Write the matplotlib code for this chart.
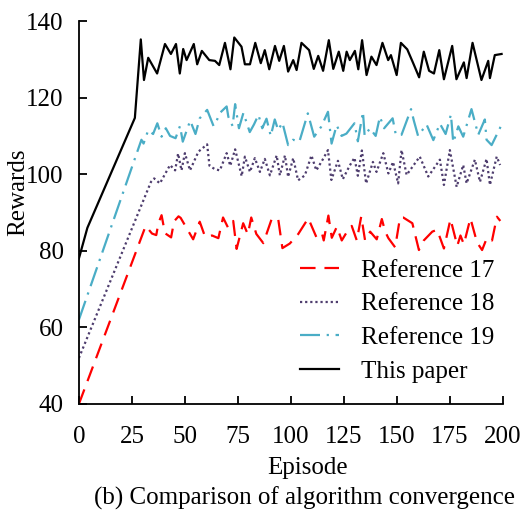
import numpy as np
import matplotlib.pyplot as plt

plt.rcParams['font.family'] = ['Liberation Serif', 'DejaVu Serif']

# Reference 17 (red dashed)
ep_r17 = [0, 31.5, 34.5, 36.5, 37.5, 39, 40.6, 43.5, 44.9, 47, 48, 53.9, 57, 59.5, 62.8, 65.8, 68,
          70.4, 72.8, 74.4, 77.5, 79.7, 81.3, 83.7, 87, 91, 94, 96, 99.5, 103.5, 108.2, 112, 114.6,
          115.5, 117.7, 119.3, 121.7, 124, 126.5, 128.7, 131.1, 133.2, 135, 137.4, 140.5, 142.9,
          144.5, 146, 149.2, 151.5, 153, 157.3, 160.4, 162.7, 166.7, 169, 172.2, 175.3, 178.5, 180,
          181.6, 184.7, 187.8, 190.2, 192.5, 194.9, 197.2, 198.8]
r17 = [40, 86.5, 84.5, 84.1, 87.2, 89.3, 84.6, 83.5, 87.7, 89, 88.6, 83, 87.6, 83.7, 84, 83.3, 88.7,
       86, 87.8, 80.5, 87.2, 84.3, 88.7, 84.4, 82, 88.4, 88.4, 80.7, 81.9, 84.4, 88.5, 83.6, 84.7,
       82.7, 89.2, 83.4, 86.3, 82.7, 85, 86.5, 82.7, 89, 82.7, 85, 83, 88.3,
       85, 83.3, 80.9, 88.7, 88.7, 87.2, 80.2, 82.7, 85, 85.5, 80.6, 88.3, 81.3, 84,
       81.7, 88.5, 82.2, 80.2, 83.4, 82.7, 88.9, 87.8]

# Reference 18 (purple dotted)
ep_r18 = [0, 34, 35.5, 38.2, 43, 45.4, 46.8, 48.4, 50, 52.4, 56.4, 60.5, 61.6, 64.2, 66.5, 69.7,
          71.4, 73.7, 76.8, 78.3, 80.7, 83, 85.4, 87.7, 90.1, 93.3, 94.8, 97.2, 98.7, 101.1, 103.4,
          106.6, 109.7, 112, 115.2, 117.5, 119.1, 122.2, 124.5, 127.7, 130, 131.6, 133.5, 135.5,
          138.7, 140.4, 143.6, 146, 148.2, 150.6, 152.2, 154.6, 160.8, 164.8, 170.3, 172.2, 175,
          178.2, 181.3, 182.9, 186.8, 189.2, 192.3, 193.9, 197.1, 198.7]
r18 = [52, 98, 98.9, 97.6, 102.4, 101, 105.4, 101, 105.5, 101, 105.9, 107.8, 102.2, 101.3, 101,
       105.5, 102.2, 106.5, 99.5, 104.6, 100.6, 104.2, 100.6, 104, 99.7, 104.9, 99.7, 104.9, 99.3,
       104.2, 98.4, 99.7, 104.9, 101, 104, 106.3, 98.5, 103.5, 98.7, 102.2, 104.3, 99.6, 106.2,
       97.6, 103.2, 100.6, 105.5, 100.2, 103.2, 97.6, 106.3, 99.8, 104.6, 99.4, 103.8, 97.2,
       106.3, 96.7, 102.4, 97.6, 103.8, 98, 104, 97.2, 104.6, 102.4]

# Reference 19 (cyan dash-dot)
ep_r19 = [0, 29.5, 30.5, 32.7, 35, 37, 39, 41, 43, 45.6, 47.7, 49, 52.5, 55, 57,
          60.5, 62, 63.5, 65, 66.5, 69.7, 70.5, 72.5, 73.7, 75.5, 77.6, 80.6, 82.6, 84.7, 86.5,
          88.5, 90.5, 92.4, 94, 96, 98.7, 101, 104, 108, 111, 114.3, 117.5, 119.2, 121.6, 123.9,
          126.2, 130, 131.6, 134, 134.8, 137.3, 140, 142, 144, 148, 149.5, 152.2, 156.7, 158,
          160, 164, 167.2, 170.3, 173, 175.5, 176.6, 179, 181.3, 185.2, 188.4, 191.5, 192.3,
          194.7, 198.6, 200]
r19 = [62, 109, 108, 111.5, 110.5, 113.3, 109.8, 112, 110, 109.4, 112.6,
       108.5, 114, 110.5, 114.6, 116.8, 114.7, 112.6, 114, 116, 117.7, 115, 112.6, 118.3, 112,
       116, 111, 113, 115.5, 112, 114.5, 110, 114.3, 111.5, 113.5, 107.6, 109, 108.5, 115.9,
       109.8, 112.4, 116.3, 108, 112.8, 110, 110.6, 113.3, 108.6, 116.3, 110, 112, 110, 115, 112,
       114.6, 110.3, 110.3, 117, 114, 110, 113, 108.9, 113.2, 110.5, 115.6, 108.3, 112.5, 109.8,
       117, 110.3, 114.3, 109, 107.6, 112, 114]

# This paper (black solid)
ep_ours = [0, 4, 26.4, 29.2, 30.7, 32.7, 36.9, 40.6, 43.4, 45.8, 47.6, 49.2, 50.8, 54.2, 55.8, 58,
           61.5, 64.2, 66.2, 68.9, 71.5, 73.3, 76.7, 78.3, 80.7, 83.2, 85.8, 87.7, 89.8, 92.5,
           94.5, 96.7, 98.7, 101.1, 102.7, 105, 108.6, 110.8, 112.9, 115.2, 117.9, 120, 122.6,
           124.7, 126.3, 127.8, 130.2, 131.8, 133.6, 135.7, 138, 140.4, 143.2, 145.9, 147.2,
           149.9, 151.9, 154.9, 157.7, 160.5, 162.7, 165.2, 167.5, 170, 172.2, 176.1, 178.1,
           181.6, 182.9, 185.7, 189.9, 193.1, 193.9, 196.2, 199.4]
ours = [78, 86, 114.7, 135.2, 124.6, 130.4, 126.3, 134, 131.4, 134, 126.3, 132.7, 129.8, 134, 128.7,
        132.2, 129.8, 129.6, 128.5, 134.3, 127.4, 135.7, 133.3, 128.7, 128.7, 134.3, 129, 132.4,
        127.4, 133.5, 129.6, 133.5, 126.8, 129.8, 127.2, 134.3, 132.4, 127.5, 130.9, 127, 135,
        127.5, 132, 127, 132, 129.8, 132.2, 127.4, 135, 125.9, 130.7, 128.5, 134.3, 129.8, 131.1,
        125.9, 134.3, 132.6, 129, 125.3, 132, 127, 126.3, 132.4, 124.8, 133.5, 124.8, 129.2,
        125.1, 134.3, 124.6, 129.6, 125.1, 131.1, 131.4]

fig = plt.figure(figsize=(5.26, 5.13), dpi=100)
ax = fig.add_axes([0.150, 0.2125, 0.806, 0.7465])

lw = 1.6
ax.plot(ep_r17, r17, color='#FF0000', lw=lw, dashes=(7, 4), label='Reference 17')
ax.plot(ep_r18, r18, color='#4E3D6E', lw=lw, dashes=(1.0, 1.3), label='Reference 18')
ax.plot(ep_r19, r19, color='#4AADC6', lw=lw, dashes=(9, 3, 1, 3), label='Reference 19')
ax.plot(ep_ours, ours, color='black', lw=lw, label='This paper')

ax.set_xlim(0, 200)
ax.set_ylim(40, 140)
ax.set_xticks(np.arange(0, 201, 25))
ax.set_yticks(np.arange(40, 141, 20))
ax.spines['top'].set_visible(False)
ax.spines['right'].set_visible(False)
for s in ['left', 'bottom']:
    ax.spines[s].set_linewidth(1.3)
ax.tick_params(direction='in', length=6, width=1.3, labelsize=18)
ax.tick_params(axis='x', pad=16)
ax.tick_params(axis='y', pad=11)

ax.set_xlabel('Episode', fontsize=18, va='center')
ax.xaxis.set_label_coords(0.540, -0.167)
ax.set_ylabel('Rewards', fontsize=18, va='center')
ax.yaxis.set_label_coords(-0.144, 0.553)

ax.legend(loc='upper left', bbox_to_anchor=(0.570, 0.495), bbox_transform=fig.transFigure,
          frameon=False, fontsize=18, handlelength=1.55, handletextpad=0.9,
          labelspacing=0.45, borderpad=0, borderaxespad=0)

fig.text(0.579, 0.029, '(b) Comparison of algorithm convergence', ha='center', va='center',
         fontsize=18)

fig.savefig('out.png', dpi=100)
